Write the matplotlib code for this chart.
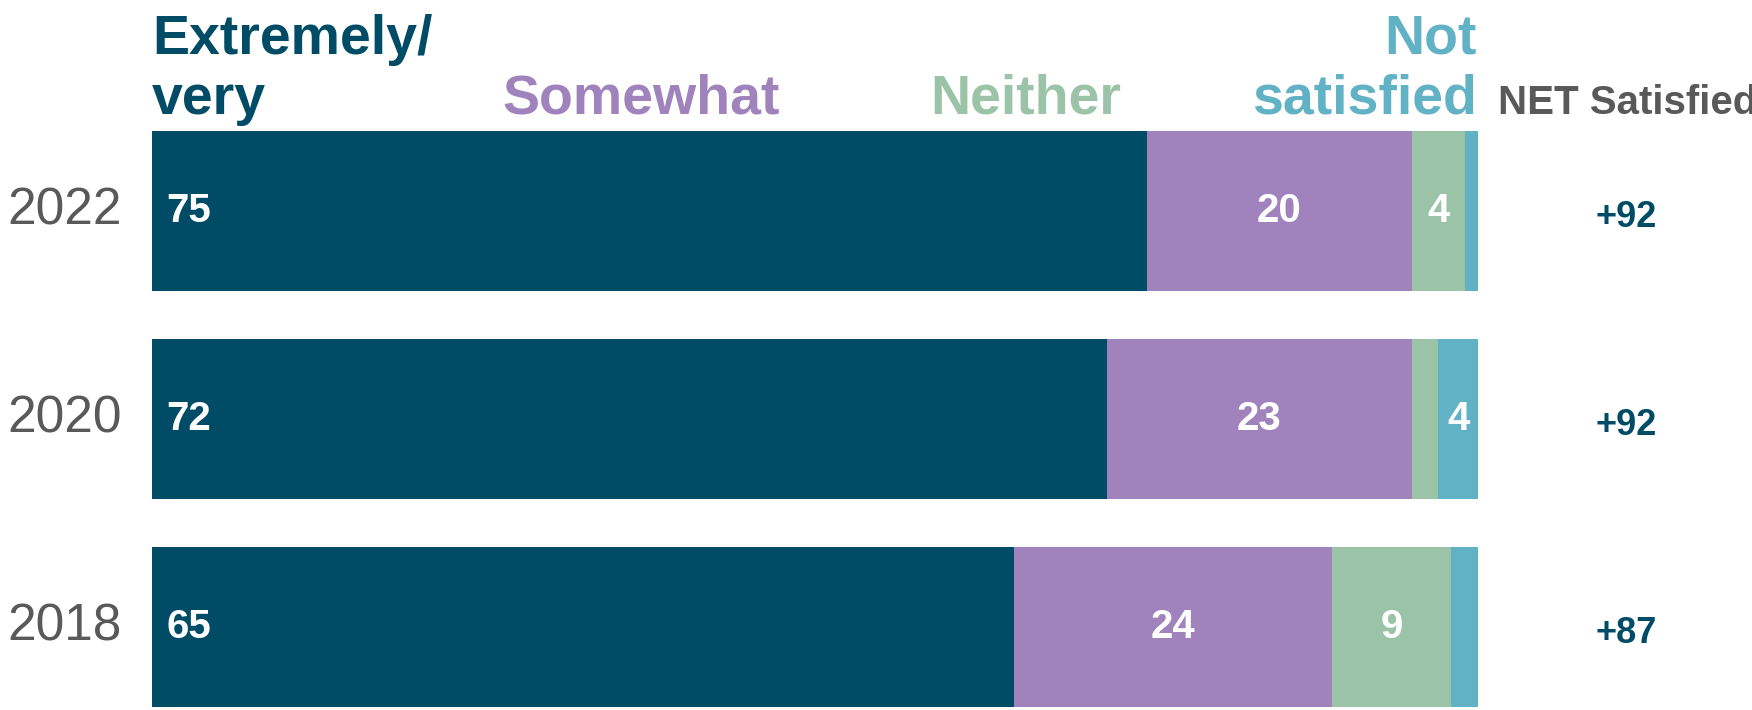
import matplotlib.pyplot as plt

plt.rcParams['font.family'] = ['Liberation Sans', 'DejaVu Sans']

years = ["2018", "2020", "2022"]
extremely = [65, 72, 75]
somewhat = [24, 23, 20]
neither = [9, 2, 4]
not_satisfied = [2, 3, 1]
net_satisfied = ["+87", "+92", "+92"]

# labels printed inside the segments ('' = no label)
extremely_lbl = ["65", "72", "75"]
somewhat_lbl = ["24", "23", "20"]
neither_lbl = ["9", "", "4"]
not_sat_lbl = ["", "4", ""]

dark = "#004B65"
purple = "#A083BC"
green = "#9BC3A7"
blue = "#62B2C6"
grey = "#595959"

W, H = 1752, 710
fig = plt.figure(figsize=(W / 100, H / 100), dpi=100)
ax = fig.add_axes([152 / W, 0, 1326 / W, 579 / H])
ax.set_xlim(0, 100)
ax.set_ylim(-0.4, 2.387)
ax.axis("off")

y = list(range(len(years)))
h = 0.77
series = [(extremely, dark, extremely_lbl),
          (somewhat, purple, somewhat_lbl),
          (neither, green, neither_lbl),
          (not_satisfied, blue, not_sat_lbl)]

left = [0] * len(years)
for k, (vals, col, lbls) in enumerate(series):
    ax.barh(y, vals, left=left, height=h, color=col, linewidth=0)
    for i, v in enumerate(vals):
        if lbls[i]:
            if k == 0:
                ax.text(left[i] + 1.1, y[i], lbls[i], ha="left", va="center",
                        color="white", fontsize=29, fontweight="bold")
            else:
                ax.text(left[i] + v / 2, y[i], lbls[i], ha="center", va="center",
                        color="white", fontsize=29, fontweight="bold")
    left = [a + b for a, b in zip(left, vals)]

for i, yr in enumerate(years):
    ax.text(-2.3, y[i], yr, ha="right", va="center", color=grey, fontsize=37,
            clip_on=False)
    ax.text(111.2, y[i] - 0.03, net_satisfied[i], ha="center", va="center",
            color=dark, fontsize=26, fontweight="bold", clip_on=False)

# column headers
b1 = (H - 54) / H
b2 = (H - 114) / H
hdr = dict(fontsize=40, fontweight="bold", va="baseline")
fig.text(152 / W, b1, "Extremely/", color=dark, ha="left", **hdr)
fig.text(152 / W, b2, "very", color=dark, ha="left", **hdr)
fig.text(502 / W, b2, "Somewhat", color=purple, ha="left", **hdr)
fig.text(930 / W, b2, "Neither", color=green, ha="left", **hdr)
fig.text(1477 / W, b1, "Not", color=blue, ha="right", **hdr)
fig.text(1477 / W, b2, "satisfied", color=blue, ha="right", **hdr)
fig.text(1498 / W, b2, "NET Satisfied", color=grey, ha="left", va="baseline",
         fontsize=29, fontweight="bold")

fig.savefig("out.png", dpi=100)
